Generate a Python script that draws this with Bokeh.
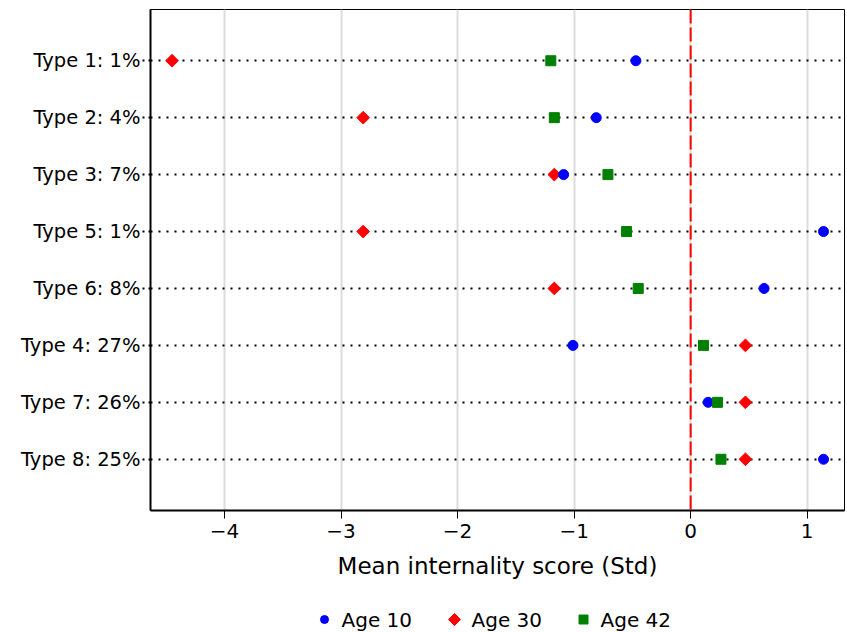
import math
from bokeh.plotting import figure
from bokeh.layouts import column
from bokeh.models import Range1d, FactorRange, FixedTicker, Span, ColumnDataSource
from bokeh.core.properties import value
from bokeh.embed import file_html
from bokeh.resources import INLINE

# ---- data (top to bottom) ----
types = ["Type 1: 1%", "Type 2: 4%", "Type 3: 7%", "Type 5: 1%",
         "Type 6: 8%", "Type 4: 27%", "Type 7: 26%", "Type 8: 25%"]
age10 = [-0.47, -0.81, -1.09, 1.14, 0.63, -1.01, 0.15, 1.14]
age30 = [-4.45, -2.81, -1.17, -2.81, -1.17, 0.47, 0.47, 0.47]
age42 = [-1.20, -1.17, -0.71, -0.55, -0.45, 0.11, 0.23, 0.26]
series_names = ["Age 10", "Age 30", "Age 42"]
x_ticks = [-4, -3, -2, -1, 0, 1]
x_tick_labels = ["\u22124", "\u22123", "\u22122", "\u22121", "0", "1"]
x_title = "Mean internality score (Std)"

FONT = "DejaVu Sans"
W = 847
H_MAIN = 590
H_LEG = 42
FRAME_L, FRAME_R = 150, 844   # pixel extent of the plot frame

p = figure(width=W, height=H_MAIN,
           x_range=Range1d(-4.635, 1.32),
           y_range=FactorRange(*reversed(types), range_padding=0.1),
           output_backend="svg", toolbar_location=None,
           min_border_left=FRAME_L, min_border_right=W - FRAME_R, min_border_top=9,
           min_border_bottom=80)

p.background_fill_color = "white"
p.border_fill_color = "white"
p.outline_line_color = "black"
p.outline_line_width = 1

# grids
p.xgrid.grid_line_color = "#dcdcdc"
p.xgrid.grid_line_width = 2
p.xgrid.ticker = FixedTicker(ticks=x_ticks)
p.ygrid.grid_line_color = "black"
p.ygrid.grid_line_width = 2
p.ygrid.grid_line_dash = "2 6"

# x axis
xa = p.xaxis[0]
xa.ticker = FixedTicker(ticks=x_ticks)
xa.major_label_overrides = {t: l for t, l in zip(x_ticks, x_tick_labels)}
xa.axis_line_width = 2
xa.axis_line_color = "black"
xa.major_tick_out = 8
xa.major_tick_in = 0
xa.major_tick_line_color = "black"
xa.minor_tick_line_color = None
xa.major_label_text_font = FONT
xa.major_label_text_font_size = "20px"
xa.major_label_text_color = "black"
xa.major_label_standoff = 5
xa.axis_label = x_title
xa.axis_label_text_font = FONT
xa.axis_label_text_font_size = "23px"
xa.axis_label_text_font_style = "normal"
xa.axis_label_text_color = "black"
xa.axis_label_standoff = 12

# y axis
ya = p.yaxis[0]
ya.axis_line_width = 2
ya.axis_line_color = "black"
ya.major_tick_out = 8
ya.major_tick_in = 0
ya.major_tick_line_color = "black"
ya.major_tick_line_width = 2
ya.major_tick_line_dash = "2 4"
ya.minor_tick_line_color = None
ya.major_label_text_font = FONT
ya.major_label_text_font_size = "19.5px"
ya.major_label_text_color = "black"
ya.major_label_standoff = 2

# vertical reference line at 0
p.add_layout(Span(location=0, dimension="height", line_color="red",
                  line_width=2, line_dash="14 4"))

src = ColumnDataSource(dict(t=types, a10=age10, a30=age30, a42=age42))

STYLE = {
    "Age 10": dict(marker="circle", size=10, angle=0.0, color="blue"),
    "Age 30": dict(marker="square", size=9, angle=math.pi / 4, color="red"),
    "Age 42": dict(marker="square", size=10, angle=0.0, color="green"),
}

# drawing order: Age 30, Age 10, Age 42 (as in the reference overlaps)
for name, col in (("Age 30", "a30"), ("Age 10", "a10"), ("Age 42", "a42")):
    s = STYLE[name]
    p.scatter(col, "t", source=src, marker=s["marker"], size=s["size"],
              angle=s["angle"], fill_color=s["color"], line_color=s["color"])

# ---- legend strip below the chart (pixel-unit layout figure) ----
# the column layout aligns this strip's frame with the chart frame,
# so its x range is expressed in page pixels over the frame extent
leg = figure(width=W, height=H_LEG, x_range=Range1d(FRAME_L, FRAME_R),
             y_range=Range1d(0, H_LEG),
             output_backend="svg", toolbar_location=None,
             x_axis_type=None, y_axis_type=None,
             min_border_left=FRAME_L, min_border_right=W - FRAME_R,
             min_border_top=0, min_border_bottom=0)
leg.outline_line_color = None
leg.xgrid.visible = False
leg.ygrid.visible = False
leg.background_fill_color = "white"
leg.border_fill_color = "white"

LEG_MARK_X = [324, 454, 583]   # layout positions (pixels)
LEG_TEXT_DX = 17
LEG_Y = 13
LEG_MARK_SIZE = {"Age 10": 8, "Age 30": 8.5, "Age 42": 9}

for name, mx in zip(series_names, LEG_MARK_X):
    s = STYLE[name]
    leg.scatter([mx], [LEG_Y], marker=s["marker"], size=LEG_MARK_SIZE[name],
                angle=s["angle"], fill_color=s["color"], line_color=s["color"])
leg.text(x=[mx + LEG_TEXT_DX for mx in LEG_MARK_X], y=[LEG_Y] * 3, text=series_names,
         text_font=value(FONT), text_font_size="20px", text_color="black",
         text_baseline="middle", text_align="left")

layout = column(p, leg, spacing=0)
open("out.html", "w").write(file_html(layout, INLINE))
